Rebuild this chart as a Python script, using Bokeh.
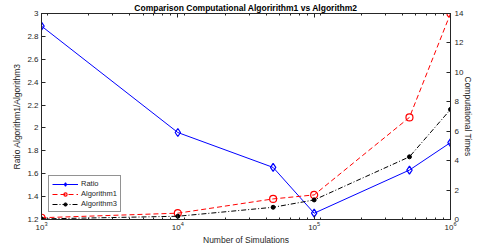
from bokeh.plotting import figure
from bokeh.models import Range1d, LinearAxis, LogAxis, FixedTicker, Legend, LegendItem
from bokeh.embed import file_html
from bokeh.resources import INLINE

# Data
simulations = [1e3, 1e4, 5e4, 1e5, 5e5, 1e6]
ratio = [2.89, 1.96, 1.655, 1.255, 1.632, 1.872]
algorithm1 = [0.12, 0.43, 1.40, 1.67, 6.94, 14.0]
algorithm3 = [0.04, 0.22, 0.83, 1.33, 4.26, 7.48]

left_ticks = [1.2, 1.4, 1.6, 1.8, 2.0, 2.2, 2.4, 2.6, 2.8, 3.0]
right_ticks = [0, 2, 4, 6, 8, 10, 12, 14]
title_text = "Comparison Computational Algoririthm1 vs Algorithm2"

FONT = "Liberation Sans"
W, H = 477, 252

p = figure(width=W, height=H, x_axis_type="log",
           x_range=Range1d(1e3, 1e6), y_range=Range1d(1.2, 3.0),
           output_backend="svg", toolbar_location=None,
           min_border_left=41, min_border_right=27, min_border_top=0, min_border_bottom=33)
p.extra_y_ranges = {"t": Range1d(0, 14)}
p.grid.visible = False
p.outline_line_color = "#262626"
p.background_fill_color = "white"

p.title.text = title_text
p.title.text_font = FONT
p.title.text_font_size = "8.5px"
p.title.text_font_style = "bold"
p.title.text_color = "black"
p.title.align = "center"
p.title.offset = 0
p.title.standoff = 1

def style_axis(ax):
    ax.axis_line_color = "#262626"
    ax.major_tick_line_color = "#262626"
    ax.minor_tick_line_color = "#262626"
    ax.major_tick_in = 4
    ax.major_tick_out = 0
    ax.minor_tick_in = 2
    ax.minor_tick_out = 0
    ax.major_label_text_font = FONT
    ax.major_label_text_font_size = "8px"
    ax.major_label_text_color = "#262626"
    ax.axis_label_text_font = FONT
    ax.axis_label_text_font_size = "8.5px"
    ax.axis_label_text_font_style = "normal"
    ax.axis_label_text_color = "#262626"
    ax.major_label_standoff = 3
    ax.axis_label_standoff = 2

xa = p.xaxis[0]
style_axis(xa)
xa.ticker.num_minor_ticks = 9
xa.major_label_standoff = 2
xa.axis_label_standoff = 2
xa.axis_label = "Number of Simulations"

ya = p.yaxis[0]
style_axis(ya)
ya.ticker = FixedTicker(ticks=left_ticks, minor_ticks=[])
ya.axis_label = "Ratio Algorithm1/Algorithm3"
ya.axis_label_standoff = 2

ra = LinearAxis(y_range_name="t", axis_label="Computational Times",
                ticker=FixedTicker(ticks=right_ticks, minor_ticks=[]))
style_axis(ra)
ra.major_label_standoff = 4
ra.axis_label_standoff = -3
p.add_layout(ra, "right")

ta = LogAxis()
style_axis(ta)
ta.ticker.num_minor_ticks = 9
ta.major_label_overrides = {1000: "", 10000: "", 100000: "", 1000000: ""}
ta.major_label_standoff = 0
p.add_layout(ta, "above")

r1l = p.line(simulations, ratio, line_color="blue", line_width=1)
r1m = p.scatter(simulations, ratio, marker="diamond", size=8, line_color="blue",
                fill_color=None, line_width=1.2)
r2l = p.line(simulations, algorithm1, line_color="red", line_width=1,
             line_dash="5 3", y_range_name="t")
r2m = p.scatter(simulations, algorithm1, marker="circle", size=7, line_color="red",
                fill_color=None, line_width=1.2, y_range_name="t")
r3l = p.line(simulations, algorithm3, line_color="black", line_width=1,
             line_dash="5 2 1 2", y_range_name="t")
r3m = p.scatter(simulations, algorithm3, marker="circle", size=4, line_color="black",
                fill_color="black", y_range_name="t")

legend = Legend(items=[
    LegendItem(label="Ratio", renderers=[r1l, r1m]),
    LegendItem(label="Algorithm1", renderers=[r2l, r2m]),
    LegendItem(label="Algorithm3", renderers=[r3l, r3m]),
], location="bottom_left")
legend.label_text_font = FONT
legend.label_text_font_size = "7.5px"
legend.label_text_color = "#262626"
legend.glyph_width = 26
legend.glyph_height = 8
legend.label_height = 8
legend.spacing = 1
legend.padding = 3
legend.margin = 7
legend.label_standoff = 3
legend.border_line_color = "#262626"
legend.border_line_width = 1
legend.background_fill_alpha = 1
p.add_layout(legend, "center")

open("out.html", "w").write(file_html(p, INLINE))
